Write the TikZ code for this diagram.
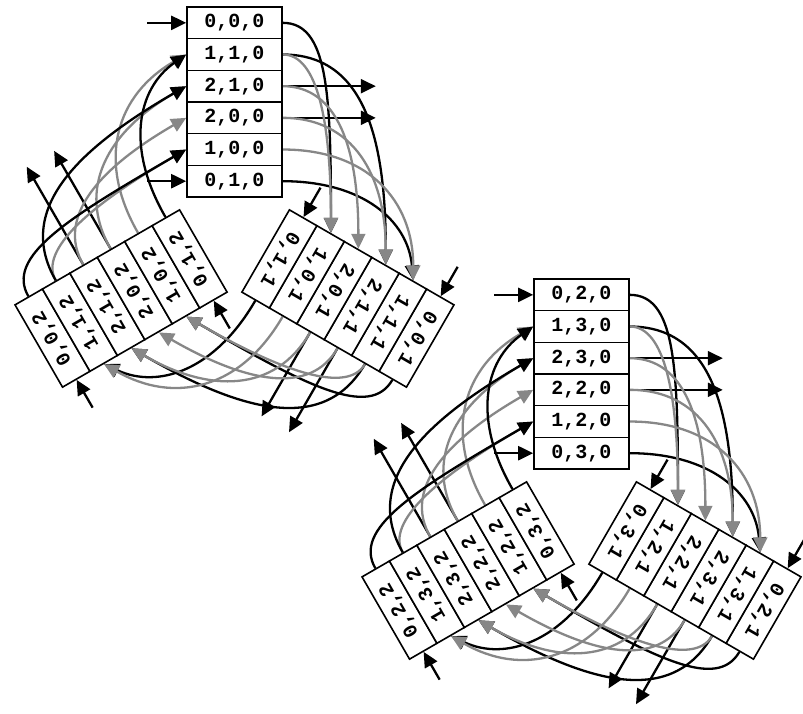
\documentclass[tikz,border=0pt]{standalone}
\usepackage{fontspec}
\setmonofont{Liberation Mono}
\usetikzlibrary{arrows.meta}
\definecolor{linkgray}{RGB}{135,135,135}
\pgfdeclarelayer{links}
\pgfsetlayers{links,main}
\tikzset{
  cell/.style={draw, line width=1.6pt, fill=white, minimum width=95pt,
    minimum height=31.67pt, inner sep=0pt,
    font=\ttfamily\bfseries\fontsize{20}{20}\selectfont},
  link/.style={line width=2.3pt, -{Triangle[length=15pt,width=14pt]}},
  blacklink/.style={link, draw=black},
  graylink/.style={link, draw=linkgray},
}
% links from block \X to the next block \Y, frame turned by \th
\newcommand\graylinks{%
  \draw[graylink] (\pfx\X2.east) .. controls +(\th:35pt) and +({\th+90}:110pt) .. (\pfx\Y5.west);
  \draw[graylink] (\pfx\X3.east) .. controls +(\th:55pt) and +({\th+90}:100pt) .. (\pfx\Y4.west);
  \draw[graylink] (\pfx\X4.east) .. controls +(\th:70pt) and +({\th+90}:90pt) .. (\pfx\Y3.west);
  \draw[graylink] (\pfx\X5.east) .. controls +(\th:85pt) and +({\th+90}:80pt) .. (\pfx\Y2.west);
}
\newcommand\blacklinks{%
  \draw[blacklink] (\pfx\X1.east) .. controls +(\th:45pt) and +({\th+90}:140pt) .. (\pfx\Y5.west);
  \draw[blacklink] (\pfx\X2.east) .. controls +(\th:80pt) and +({\th+90}:130pt) .. (\pfx\Y3.west);
  \draw[blacklink] (\pfx\X6.east) .. controls +(\th:80pt) and +({\th+95}:60pt) .. (\pfx\Y2.west);
}
% one ring of three blocks: #1 shift, #2 name prefix, #3 offset of the middle index
\newcommand\ringsystem[3]{%
  \def\pfx{#2}%
  \begin{scope}[shift={#1}]
    \foreach \blk/\rot/\c in {T/0/0, R/240/1, L/120/2}{
      \begin{scope}[rotate=\rot, transform shape]
        \foreach \k/\a/\b in {1/0/0, 2/1/1, 3/2/1, 4/2/0, 5/1/0, 6/0/1}{
          \pgfmathtruncatemacro\bb{\b+#3}
          \node[cell] (#2\blk\k) at (0,{226-31.67*(\k-0.5)}) {\a,\bb,\c};
        }
      \end{scope}
    }
  \end{scope}
  \begin{pgfonlayer}{links}
    \foreach \X/\Y/\th/\lin/\lout/\gf in {T/R/0/39/93/0, R/L/240/34/97/0, L/T/120/32/113/1}{
      \path (#2\X1.west) ++({\th+180}:\lin pt) coordinate (#2\X in1);
      \path (#2\X6.west) ++({\th+180}:\lin pt) coordinate (#2\X in6);
      \path (#2\X3.east) ++(\th:\lout pt) coordinate (#2\X out3);
      \path (#2\X4.east) ++(\th:\lout pt) coordinate (#2\X out4);
      \draw[blacklink] (#2\X in1) -- (#2\X1.west);
      \draw[blacklink] (#2\X in6) -- (#2\X6.west);
      \draw[blacklink] (#2\X3.east) -- (#2\X out3);
      \draw[blacklink] (#2\X4.east) -- (#2\X out4);
      \ifnum\gf=1 \graylinks\blacklinks\else\blacklinks\graylinks\fi
    }
  \end{pgfonlayer}
}
\begin{document}
\begin{tikzpicture}[x=1pt,y=1pt]
  \useasboundingbox (-234.5,-480) rectangle (568.5,233);
  \ringsystem{(0,0)}{a}{0}
  \ringsystem{(347,-272)}{b}{2}
\end{tikzpicture}
\end{document}
